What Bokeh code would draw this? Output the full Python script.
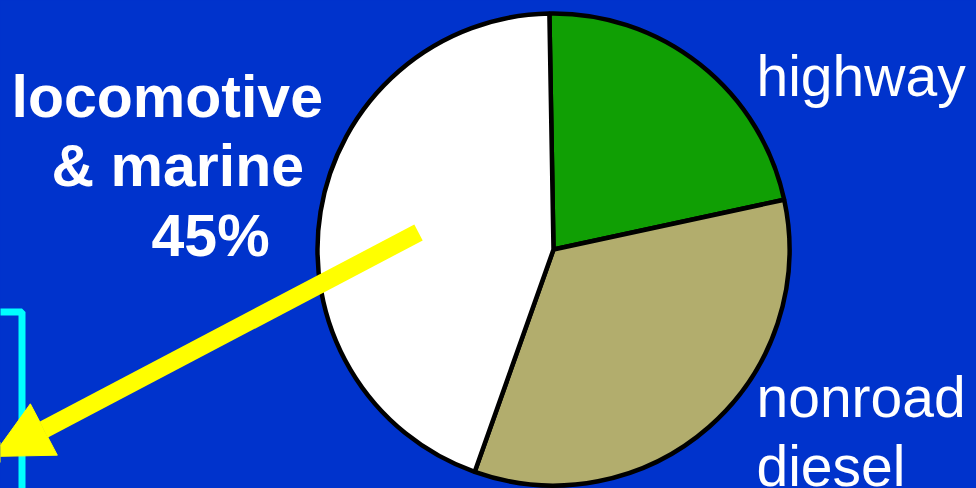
import math
from bokeh.plotting import figure
from bokeh.models import Range1d, Arrow, NormalHead, ColumnDataSource
from bokeh.core.properties import value
from bokeh.embed import file_html
from bokeh.resources import INLINE

# ---- data ----
categories = ["highway", "nonroad diesel", "locomotive & marine"]
shares = [21.9, 33.8, 44.3]
slice_colors = ["#109f04", "#b2ad6d", "#ffffff"]
label_lines_left = ["locomotive", "& marine", "45%"]
label_lines_right_top = ["highway"]
label_lines_right_bottom = ["nonroad", "diesel"]

BG = "#0033cc"
W, H = 976, 488

p = figure(width=W, height=H, output_backend="svg", toolbar_location=None,
           x_range=Range1d(0, W), y_range=Range1d(0, H),
           x_axis_type=None, y_axis_type=None,
           min_border=0, min_border_left=0, min_border_right=0,
           min_border_top=0, min_border_bottom=0)
p.background_fill_color = BG
p.border_fill_color = BG
p.outline_line_color = None
p.grid.visible = False

def Y(sy):
    return H - sy

# cyan box (partially off-page)
p.quad(left=-200, right=21.5, top=Y(311.5), bottom=-200,
       fill_color=None, line_color="#00ffff", line_width=7)

# pie, clockwise from the top
cx, cy, r = 553, Y(249), 236
start_deg = 91.0
total = float(sum(shares))
starts, ends = [], []
a = start_deg
for s in shares:
    span = s / total * 360.0
    ends.append(math.radians(a))
    starts.append(math.radians(a - span))
    a -= span
src = ColumnDataSource(dict(x=[cx] * 3, y=[cy] * 3, start=starts, end=ends,
                            color=slice_colors, name=categories))
p.wedge(x="x", y="y", radius=r, start_angle="start", end_angle="end",
        fill_color="color", line_color="black", line_width=4.5, source=src)

# yellow arrow
p.add_layout(Arrow(x_start=418, y_start=Y(232), x_end=-8, y_end=Y(456),
                   line_color="#ffff00", line_width=18,
                   end=NormalHead(size=58, fill_color="#ffff00", line_color="#ffff00", line_width=1)))

font = value("Liberation Sans")
dy = 22  # baseline correction
# left label (bold)
p.text(x=[11, 51, 151], y=[Y(118 - dy), Y(187 - dy), Y(257 - dy)], text=label_lines_left,
       text_font=font, text_font_style="bold", text_font_size="59px",
       text_color="white", text_align="left", text_baseline="alphabetic")
# right labels
p.text(x=[756], y=[Y(97 - dy)], text=label_lines_right_top,
       text_font=font, text_font_size="57px",
       text_color="white", text_align="left", text_baseline="alphabetic")
p.text(x=[756, 756], y=[Y(418 - dy), Y(487 - dy)], text=label_lines_right_bottom,
       text_font=font, text_font_size="57px",
       text_color="white", text_align="left", text_baseline="alphabetic")

html = file_html(p, INLINE)
style = "<style>html,body{margin:0;padding:0;background:#0033cc;overflow:hidden;}</style>"
html = html.replace("</head>", style + "</head>", 1)
open("out.html", "w").write(html)
